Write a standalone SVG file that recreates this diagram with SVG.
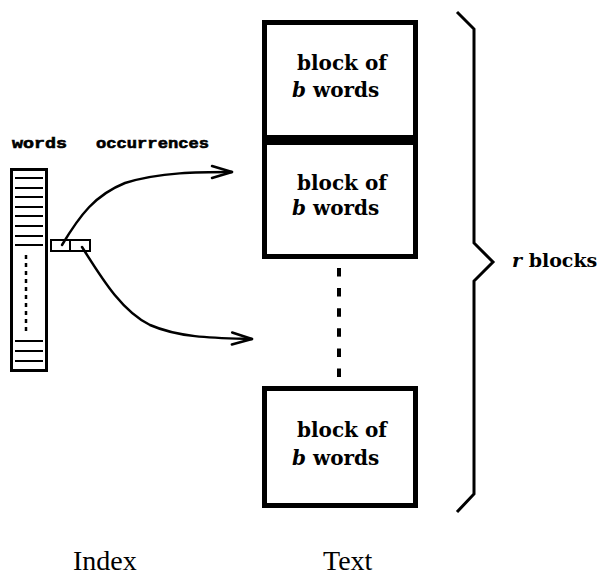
<svg xmlns="http://www.w3.org/2000/svg" width="602" height="578" viewBox="0 0 602 578">
<defs>
<style>
.blk{fill:#fff;stroke:#000;stroke-width:5}
.bt{font-family:"DejaVu Serif",serif;font-weight:bold;font-size:20px;fill:#000}
.it{font-style:italic}
.mono{font-family:"Liberation Mono",monospace;font-weight:bold;font-size:15px;fill:#000;stroke:#000;stroke-width:0.6}
.cap{font-family:"Liberation Serif",serif;font-size:28px;fill:#000}
.ln{fill:none;stroke:#000;stroke-width:2.5;stroke-linecap:round}
</style>
<marker id="ah" viewBox="0 0 24 16" refX="22" refY="8" markerWidth="24" markerHeight="16" markerUnits="userSpaceOnUse" orient="auto">
<path d="M2,2 L22,8 L2,14" fill="none" stroke="#000" stroke-width="2.5" stroke-linecap="round" stroke-linejoin="round"/>
</marker>
</defs>
<rect width="602" height="578" fill="#fff"/>

<g id="index">
<text class="mono" x="12" y="148" textLength="55" lengthAdjust="spacingAndGlyphs">words</text>
<text class="mono" x="96" y="148" textLength="113" lengthAdjust="spacingAndGlyphs">occurrences</text>
<rect x="11.5" y="169.5" width="35" height="201" fill="#fff" stroke="#000" stroke-width="3"/>
<g stroke="#000" stroke-width="2">
<line x1="15" y1="178" x2="43" y2="178"/>
<line x1="15" y1="188" x2="43" y2="188"/>
<line x1="15" y1="197" x2="43" y2="197"/>
<line x1="15" y1="207" x2="43" y2="207"/>
<line x1="15" y1="216" x2="43" y2="216"/>
<line x1="15" y1="226" x2="43" y2="226"/>
<line x1="15" y1="236" x2="43" y2="236"/>
<line x1="15" y1="245" x2="43" y2="245"/>
<line x1="15" y1="341" x2="43" y2="341"/>
<line x1="15" y1="351" x2="43" y2="351"/>
<line x1="15" y1="361" x2="43" y2="361"/>
</g>
<line x1="26" y1="255" x2="26" y2="333" stroke="#000" stroke-width="2.5" stroke-dasharray="4 4"/>
<text class="cap" x="73" y="570">Index</text>
</g>

<g id="entry">
<rect x="51" y="240" width="39" height="11" fill="#fff" stroke="#000" stroke-width="2"/>
<line x1="70" y1="240" x2="70" y2="251" stroke="#000" stroke-width="2"/>
</g>

<g id="block1">
<rect class="blk" x="264.5" y="22.5" width="151" height="115"/>
<text class="bt" x="297" y="70">block of</text>
<text class="bt" x="292" y="97"><tspan class="it">b</tspan> words</text>
</g>
<g id="block2">
<rect class="blk" x="264.5" y="142.5" width="151" height="114"/>
<text class="bt" x="297" y="190">block of</text>
<text class="bt" x="292" y="215"><tspan class="it">b</tspan> words</text>
</g>
<g id="block3">
<rect class="blk" x="264.5" y="388.5" width="151" height="117"/>
<text class="bt" x="297" y="437">block of</text>
<text class="bt" x="292" y="465"><tspan class="it">b</tspan> words</text>
</g>
<line x1="339" y1="268" x2="339" y2="377" stroke="#000" stroke-width="4" stroke-dasharray="8.5 11.6"/>
<text class="cap" x="323" y="570">Text</text>

<g id="brace">
<path d="M457,12 L474,29 L474,243 L493,262 L474,281 L474,494 L457,512" fill="none" stroke="#000" stroke-width="3" stroke-linejoin="miter"/>
<text class="bt" x="512" y="267" style="font-size:19px"><tspan class="it">r</tspan> blocks</text>
</g>

<g id="connectors">
<path class="ln" d="M62,245 C80,215 95,195 125,183 C160,172 200,172 232,172" marker-end="url(#ah)"/>
<path class="ln" d="M82,247 C100,275 120,310 150,325 C180,338 215,338 252,339" marker-end="url(#ah)"/>
</g>
</svg>
